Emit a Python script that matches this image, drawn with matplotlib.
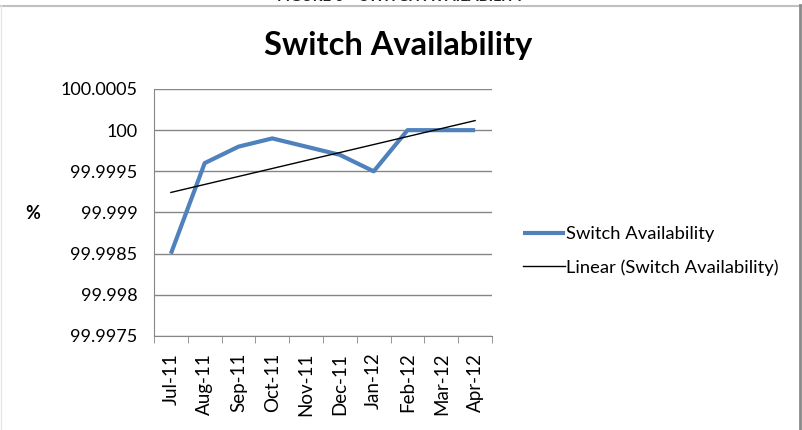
import numpy as np
import matplotlib

matplotlib.use("Agg")
import matplotlib.pyplot as plt
from matplotlib.lines import Line2D

plt.rcParams["font.family"] = ["Lato", "DejaVu Sans"]

months = ["Jul-11", "Aug-11", "Sep-11", "Oct-11", "Nov-11",
          "Dec-11", "Jan-12", "Feb-12", "Mar-12", "Apr-12"]
availability = [99.9985, 99.9996, 99.9998, 99.9999, 99.9998,
                99.9997, 99.9995, 100.0, 100.0, 100.0]
y_ticks = [99.9975, 99.998, 99.9985, 99.999, 99.9995, 100.0, 100.0005]
y_labels = ["99.9975", "99.998", "99.9985", "99.999", "99.9995", "100", "100.0005"]

W, H = 802, 430
fig = plt.figure(figsize=(W / 100, H / 100), dpi=100)

# caption of the page, cut by the top edge as in the source
fig.text(0.5, 1.0 + 3 / H, "FIGURE 6 – SWITCH AVAILABILITY", ha="center", va="center",
         fontsize=11, fontweight="bold", color="#222222")

# chart box border
fig.add_artist(Line2D([0, 1], [1 - 5.5 / H, 1 - 5.5 / H], transform=fig.transFigure,
                      color="#c0c0c0", lw=1.5))
fig.add_artist(Line2D([799.5 / W, 799.5 / W], [0, 1 - 5 / H], transform=fig.transFigure,
                      color="#8a8a8a", lw=2))
fig.add_artist(Line2D([0.8 / W, 0.8 / W], [0, 1 - 5 / H], transform=fig.transFigure,
                      color="#e6e6e6", lw=1))

left, right = 154 / W, 492 / W
bottom, top = 1 - 336 / H, 1 - 89 / H
ax = fig.add_axes([left, bottom, right - left, top - bottom])

x = np.arange(len(months))
ax.plot(x, availability, color="#4f81bd", lw=3, solid_capstyle="butt",
        label="Switch Availability", zorder=3)

# linear trendline
k, b = np.polyfit(x, np.array(availability) - 99.998, 1)
ax.plot(x, k * x + b + 99.998, color="black", lw=1,
        label="Linear (Switch Availability)", zorder=4)

ax.set_xlim(-0.5, len(months) - 0.5)
ax.set_ylim(y_ticks[0], y_ticks[-1])
ax.set_yticks(y_ticks)
ax.set_yticklabels(y_labels, fontsize=13)
ax.tick_params(axis="y", length=0, pad=12)
ax.grid(axis="y", color="#868686", lw=1)
ax.set_axisbelow(True)

ax.set_xticks(x)
ax.set_xticklabels(months, rotation=90, fontsize=13.5)
ax.set_xticks(np.arange(len(months) + 1) - 0.5, minor=True)
ax.tick_params(axis="x", which="major", length=0, pad=12)
ax.tick_params(axis="x", which="minor", length=5, color="#868686")

for s in ["top", "right"]:
    ax.spines[s].set_visible(False)
for s in ["left", "bottom"]:
    ax.spines[s].set_color("#868686")

fig.text(33 / W, 1 - 214 / H, "%", ha="center", va="center", fontsize=13, fontweight="bold")
fig.text(398 / W, 1 - 45 / H, "Switch Availability", ha="center", va="center",
         fontsize=23.5, fontweight="bold")

ax.legend(loc="center left", bbox_to_anchor=(506 / W, 1 - 251 / H),
          bbox_transform=fig.transFigure, frameon=False, fontsize=13.2,
          handlelength=2.3, handletextpad=0.1, labelspacing=0.9, borderpad=0.4)

fig.savefig("out.png", dpi=100)
